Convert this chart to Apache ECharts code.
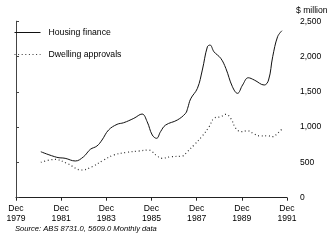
<!DOCTYPE html>
<html>
<head>
<meta charset="utf-8">
<script src="https://cdn.jsdelivr.net/npm/echarts@6/dist/echarts.min.js"></script>
<style>html,body{margin:0;padding:0;background:#fff}#c{width:336px;height:251px}</style>
</head>
<body>
<div id="c"></div>
<script>
// months since Dec 1979
var housingMonths = [13.2, 21.7, 26.1, 31.5, 35.9, 39.5, 43.0, 45.7, 49.2, 53.7, 57.2, 62.6, 67.0, 69.7, 72.4, 74.7, 76.8, 79.5, 85.7, 90.1, 91.2, 92.8, 96.4, 99.0, 101.7, 103.1, 105.2, 108.8, 111.5, 115.0, 117.7, 120.4, 123.4, 126.6, 131.9, 134.2, 136.4, 139.0, 141.3];
var housingValues = [651, 572, 558, 520, 580, 685, 732, 817, 959, 1039, 1062, 1124, 1185, 1076, 888, 841, 935, 1029, 1100, 1195, 1266, 1400, 1549, 1808, 2138, 2162, 2067, 1974, 1832, 1572, 1478, 1596, 1699, 1667, 1596, 1667, 1997, 2280, 2365];
var dwellingMonths = [13.2, 20.8, 27.0, 35.0, 40.4, 46.6, 51.9, 59.0, 65.2, 70.6, 72.4, 75.0, 77.7, 82.1, 88.4, 91.0, 94.6, 99.0, 102.6, 105.2, 108.8, 111.5, 114.1, 116.8, 119.5, 123.0, 126.6, 130.1, 133.7, 136.4, 139.0, 141.7];
var dwellingValues = [501, 543, 487, 392, 439, 534, 604, 643, 661, 675, 651, 590, 558, 580, 590, 651, 746, 874, 1005, 1124, 1147, 1181, 1124, 983, 935, 949, 902, 874, 878, 864, 912, 983];
var tickLabels = ['Dec\n1979', 'Dec\n1981', 'Dec\n1983', 'Dec\n1985', 'Dec\n1987', 'Dec\n1989', 'Dec\n1991'];
var seriesNames = ['Housing finance', 'Dwelling approvals'];
var unitLabel = '$ million';
var sourceText = 'Source: ABS 8731.0, 5609.0 Monthly data';

function zip(a, b) { return a.map(function (v, i) { return [v, b[i]]; }); }

var font = 'Liberation Sans, Arial, Helvetica, sans-serif';
var chart = echarts.init(document.getElementById('c'), null, { renderer: 'canvas' });
chart.setOption({
  animation: false,
  backgroundColor: '#fff',
  grid: { left: 16, right: 49, top: 21.2, bottom: 53.3 },
  legend: {
    orient: 'vertical', left: 14, top: 28, padding: 0,
    itemWidth: 26, itemHeight: 10, itemGap: 13,
    itemStyle: { opacity: 0 },
    lineStyle: { width: 1 },
    textStyle: { fontFamily: font, fontSize: 8.7, color: '#000', padding: [0, 0, 0, 3] },
    data: seriesNames
  },
  xAxis: {
    type: 'value', min: 0, max: 144, interval: 24,
    axisLine: { lineStyle: { color: '#222', width: 1 } },
    axisTick: { show: true, length: 3, lineStyle: { color: '#222' } },
    splitLine: { show: false },
    axisLabel: {
      fontFamily: font, fontSize: 8.6, color: '#000', lineHeight: 10, margin: 6,
      formatter: function (v) { return tickLabels[Math.round(v / 24)]; }
    }
  },
  yAxis: {
    type: 'value', position: 'right', offset: 9, min: 0, max: 2500, interval: 500,
    axisLine: { show: true, lineStyle: { color: '#444', width: 1 } },
    axisTick: { show: true, length: 3, lineStyle: { color: '#444' } },
    splitLine: { show: false },
    axisLabel: {
      fontFamily: font, fontSize: 8.5, color: '#000', margin: 4,
      formatter: function (v) { return v.toLocaleString('en-US'); }
    }
  },
  graphic: [
    { type: 'text', left: 296, top: 6, style: { text: unitLabel, font: '8.6px ' + font, fill: '#000' } },
    { type: 'text', left: 15, top: 225, style: { text: sourceText, font: 'italic 7.6px ' + font, fill: '#000' } }
  ],
  series: [
    {
      name: seriesNames[0], type: 'line', smooth: 0.4, symbol: 'none',
      lineStyle: { color: '#111', width: 1 }, itemStyle: { color: '#111' },
      data: zip(housingMonths, housingValues)
    },
    {
      name: seriesNames[1], type: 'line', smooth: 0.4, symbol: 'none',
      lineStyle: { color: '#333', width: 1.2, type: [1, 2.6] }, itemStyle: { color: '#333' },
      data: zip(dwellingMonths, dwellingValues)
    }
  ]
});
</script>
</body>
</html>
